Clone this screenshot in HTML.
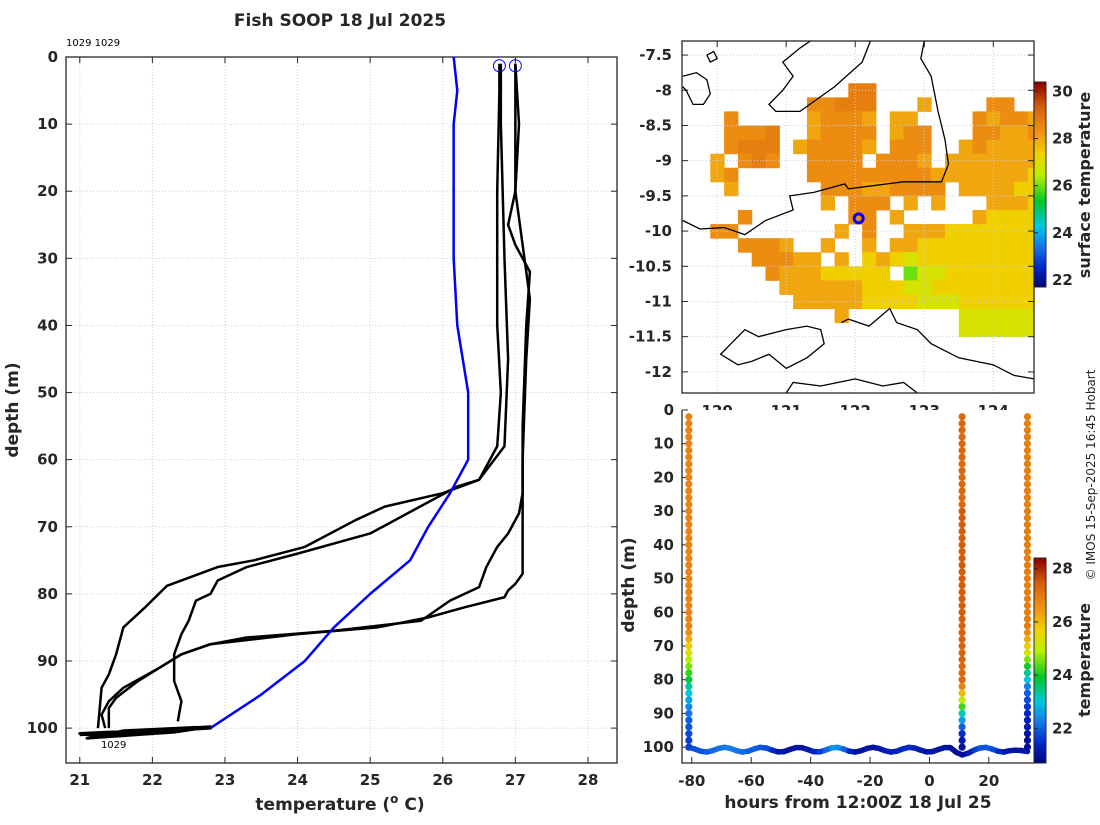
<!DOCTYPE html>
<html><head><meta charset="utf-8"><style>
body{margin:0;background:#fff;}
svg text{font-family:"DejaVu Sans","Liberation Sans",sans-serif;fill:#262626;}
.tk{font-size:15px;font-weight:bold;}
.lb{font-size:17px;font-weight:bold;}
</style></head><body>
<svg id="svg" width="1100" height="820" xmlns="http://www.w3.org/2000/svg">
<rect width="1100" height="820" fill="#fff"/>
<text x="340" y="26" text-anchor="middle" style="font-size:17px;font-weight:bold">Fish SOOP 18 Jul 2025</text>
<text x="66" y="46" style="font-size:10px;fill:#000">1029 1029</text>
<g id="left"></g>
<g id="map"></g>
<g id="sect"></g>
<text transform="translate(18,410) rotate(-90)" text-anchor="middle" class="lb">depth (m)</text>
<text x="340" y="810" text-anchor="middle" class="lb">temperature (<tspan dy="-7" font-size="12">o</tspan><tspan dy="7"> C)</tspan></text>
<text transform="translate(634,585) rotate(-90)" text-anchor="middle" class="lb">depth (m)</text>
<text x="858" y="808" text-anchor="middle" class="lb">hours from 12:00Z 18 Jul 25</text>
<text transform="translate(1095,475) rotate(-90)" text-anchor="middle" style="font-size:12px">© IMOS 15-Sep-2025 16:45 Hobart</text>
</svg>
<script>
// ---------- profile plot data ----------
const tempTicks=[21,22,23,24,25,26,27,28];
const depthTicks=[0,10,20,30,40,50,60,70,80,90,100];
const blueT=[26.15,26.2,26.15,26.15,26.15,26.2,26.35,26.35,26.1,25.8,25.55,25.0,24.5,24.1,23.5,22.8];
const blueD=[0,5,10,20,30,40,50,60,65,70,75,80,85,90,95,100];
const profAT=[26.78,26.78,26.75,26.75,26.8,26.75,26.5,26.0,25.2,24.8,24.1,23.4,22.9,22.2,21.9,21.6,21.5,21.4,21.3,21.25];
const profAD=[1,5,20,40,50,58,63,65,67,69,73,75,76,78.8,82,85,89,92,94,100];
const profBT=[26.8,26.8,26.85,26.9,26.85,26.5,26.2,25.0,24.0,23.3,22.9,22.8,22.6,22.5,22.4,22.3,22.3,22.4,22.35];
const profBD=[1,10,30,45,58,63,64,71,74,76,78,80,81,84,86,89,93,96,99];
const profCT=[27.0,27.05,27.0,26.9,27.0,27.2,27.15,27.1,27.1,27.05,26.9,26.75,26.6,26.5,26.1,25.7,24.5,23.3,22.8,22.4,22.1,21.8,21.5,21.4,21.4];
const profCD=[1,10,20,25,28,32,40,55,65,68,71,73,76,79,81,84,85.5,86.5,87.5,89,91,93,95.5,97,100];
const profDT=[27.0,27.0,27.2,27.15,27.1,27.1,27.0,26.9,26.85,26.3,25.8,25.1,24.0,22.8,22.4,22.1,21.6,21.4,21.3,21.35];
const profDD=[1,20,36,45,60,77,78.5,79.5,80.5,82,83.5,85,86,87.5,89,91,94,96,98,100];
const bottomT=[21.0,21.8,22.5,22.8,22.0,21.3,21.0,22.0,22.8,22.3,21.5,21.1,21.6,22.6,21.2];
const bottomD=[101,100.5,100,100,100.5,101,100.8,100.3,99.8,100.6,101.2,101.5,100.4,99.9,101.3];
const startT=[26.78,27.0];
const startD=[1.3,1.3];

// ---------- map data ----------
const lonTicks=[120,121,122,123,124];
const latTicks=[-7.5,-8,-8.5,-9,-9.5,-10,-10.5,-11,-11.5,-12];
const sstCodes=['R','r','o','y','g','G'];
const sstValues=[28.7,28.4,28.0,27.4,26.9,26.0];
const sstRows=[
"..........................",
"..........................",
"..........................",
"............RR............",
".........rrRRR...o....rr..",
"...r.....orrro.oo....rorro",
"...rrrR..orrrr.orr...rroor",
"...rRRR.orrrro.rrr..oroooo",
"..o.rRr..rrrr.rrro.ooooooo",
"..or.....rrrrrrrrroooooooy",
"...o......rrroorrrr.ooooyy",
"..........o.rrr.o.o...oooy",
"....r.......rr.o.....oyyyy",
"..rr.......o.r..oooyyyyyyy",
"....rrro..o..o.ooyyyyyyyyy",
".....rrroo.o.yoygyyyyyyyyy",
"......roooyyyyy.Gggyyyyyyy",
".......ooooooyyyggyyyyyyyy",
"........oooooyyyygggyyyyyy",
"...........o........gggggg",
"....................gggggg",
"..........................",
"..........................",
"..........................",
".........................."];
const sstLon0=119.5, sstLat0=-7.3, sstStep=0.2;
const mapCbTicks=[22,24,26,28,30];
const shipLon=122.05, shipLat=-9.82;
const coasts=[
 [[122.22,-7.3],[122.1,-7.6],[121.7,-7.95],[121.2,-8.3],[120.85,-8.3],[120.75,-8.2],[120.95,-8.0],[121.1,-7.8],[120.95,-7.6],[121.2,-7.4],[121.35,-7.3]],
 [[119.5,-7.8],[119.7,-7.75],[119.85,-7.85],[119.9,-8.05],[119.8,-8.2],[119.65,-8.2],[119.55,-8.0],[119.5,-7.95]],
 [[119.85,-7.5],[119.95,-7.45],[120.0,-7.55],[119.9,-7.6],[119.85,-7.5]],
 [[123.0,-7.3],[122.95,-7.55],[123.1,-7.8],[123.2,-8.3],[123.3,-8.7],[123.35,-9.05],[123.25,-9.3],[122.7,-9.3],[122.3,-9.35],[121.9,-9.4],[121.85,-9.33],[121.4,-9.45],[121.05,-9.5],[121.1,-9.7],[120.7,-9.85],[120.4,-10.05],[120.1,-9.95],[119.75,-9.97],[119.5,-9.85]],
 [[120.2,-11.6],[120.4,-11.4],[120.6,-11.5],[121.0,-11.4],[121.3,-11.35],[121.5,-11.4],[121.55,-11.6],[121.3,-11.8],[121.0,-11.95],[120.75,-11.75],[120.5,-11.85],[120.3,-11.9],[120.05,-11.75],[120.2,-11.6]],
 [[121.8,-11.3],[121.9,-11.25],[122.2,-11.35],[122.5,-11.1],[122.6,-11.3],[122.9,-11.4],[123.1,-11.6],[123.5,-11.8],[124.0,-11.9],[124.3,-12.05],[124.59,-12.1]],
 [[121.0,-12.3],[121.1,-12.15],[121.5,-12.2],[122.0,-12.1],[122.4,-12.2],[122.7,-12.15],[122.9,-12.3]]
];

// ---------- section data ----------
const hourTicks=[-80,-60,-40,-20,0,20];
const secDepthTicks=[0,10,20,30,40,50,60,70,80,90,100];
const secCbTicks=[22,24,26,28];
const castHours=[-81,11,33];
const castDepths=[2,4,6,8,10,12,14,16,18,20,22,24,26,28,30,32,34,36,38,40,42,44,46,48,50,52,54,56,58,60,62,64,66,68,70,72,74,76,78,80,82,84,86,88,90,92,94,96,98,100];
const cast1Temps=[26.8,26.8,26.8,26.8,26.8,26.8,26.8,26.8,26.8,26.8,26.8,26.8,26.8,26.8,26.8,26.8,26.8,26.8,26.8,26.8,26.8,26.8,26.8,26.8,26.8,26.8,26.8,26.8,26.8,26.8,26.8,26.8,26.6,26.2,25.8,25.4,24.9,24.6,24.2,23.8,23.4,23.0,22.7,22.4,22.2,22.0,21.9,21.8,21.7,21.7];
const cast2Temps=[27.3,27.3,27.3,27.3,27.3,27.3,27.3,27.3,27.3,27.3,27.3,27.3,27.3,27.3,27.5,27.5,27.5,27.5,27.5,27.5,27.5,27.5,27.5,27.5,27.5,27.5,27.5,27.5,27.5,27.5,27.4,27.4,27.4,27.4,27.4,27.4,27.4,27.3,27.3,27.3,26.8,26.0,25.0,24.3,23.2,22.6,22.0,21.5,21.2,21.0];
const cast3Temps=[26.9,26.9,26.9,26.9,26.9,26.9,26.9,26.9,26.9,26.9,26.9,26.9,26.9,26.9,26.9,26.9,26.9,26.9,26.9,26.9,26.9,26.9,26.9,26.9,26.9,26.9,26.9,26.9,26.9,26.9,26.9,26.9,26.6,26.2,25.8,25.2,24.6,24.0,23.4,23.0,22.3,22.0,21.8,21.6,21.4,21.3,21.2,21.1,21.0,21.0];
const waveHours=[-81,-79,-77,-75,-73,-71,-69,-67,-65,-63,-61,-59,-57,-55,-53,-51,-49,-47,-45,-43,-41,-39,-37,-35,-33,-31,-29,-27,-25,-23,-21,-19,-17,-15,-13,-11,-9,-7,-5,-3,-1,1,3,5,7,9,11,13,15,17,19,21,23,25,27,29,31,33];
const waveDepths=[100.07,100.53,101.2,101.44,101.05,100.37,100.05,100.37,101.05,101.44,101.2,100.53,100.07,100.24,100.88,101.4,101.32,100.7,100.13,100.13,100.7,101.32,101.4,100.88,100.24,100.07,100.53,101.2,101.44,101.05,100.37,100.05,100.37,101.05,101.44,101.2,100.53,100.07,100.24,100.88,101.4,101.32,100.7,100.13,100.13,101.5,102.3,101.8,100.9,100.24,100.07,100.53,101.2,101.44,101.05,100.9,101.0,101.3];
const waveTemps=[22.0,21.9,21.9,22.0,22.1,22.2,22.3,22.3,22.2,22.1,22.0,22.0,21.9,21.8,21.5,21.2,21.1,21.1,21.1,21.1,21.2,21.4,21.7,22.1,22.5,22.4,22.0,21.4,21.1,21.1,21.1,21.1,21.2,21.3,21.3,21.4,21.5,21.5,21.3,21.2,21.1,21.1,21.1,21.1,21.0,21.0,21.0,21.3,21.7,21.9,21.9,21.8,21.5,21.2,21.1,21.1,21.1,21.1];

const NS='http://www.w3.org/2000/svg';
function mk(tag,attrs,parent){const e=document.createElementNS(NS,tag);for(const k in attrs)e.setAttribute(k,attrs[k]);parent.appendChild(e);return e;}
const cmStops=[0,0.1,0.2,0.3,0.42,0.55,0.65,0.75,0.88,1.0];
const cmCols=[[0,0,120],[0,40,200],[20,120,235],[0,200,225],[0,200,40],[190,240,0],[240,210,0],[240,150,20],[215,95,10],[140,0,0]];
function jet(t){t=Math.max(0,Math.min(1,t));let i=0;while(i<cmStops.length-2&&t>cmStops[i+1])i++;
 const f=(t-cmStops[i])/(cmStops[i+1]-cmStops[i]);const a=cmCols[i],b=cmCols[i+1];
 return `rgb(${Math.round(a[0]+(b[0]-a[0])*f)},${Math.round(a[1]+(b[1]-a[1])*f)},${Math.round(a[2]+(b[2]-a[2])*f)})`;}

// ===== Profile plot =====
(function(){
const g=document.getElementById('left');
const L=66,R=617,T=57,B=763,xmin=20.81,xmax=28.4,ymin=0,ymax=105.2;
const X=v=>L+(v-xmin)/(xmax-xmin)*(R-L), Y=v=>T+(v-ymin)/(ymax-ymin)*(B-T);
tempTicks.forEach(t=>{
 const l=mk('line',{x1:X(t),x2:X(t),y1:T,y2:B,stroke:'#d8c8d8','stroke-width':1,'stroke-dasharray':'1,2'},g);
 
 mk('line',{x1:X(t),x2:X(t),y1:B,y2:B-6,stroke:'#262626'},g);mk('line',{x1:X(t),x2:X(t),y1:T,y2:T+6,stroke:'#262626'},g);
 const tx=mk('text',{x:X(t),y:B+22,'text-anchor':'middle',class:'tk'},g);tx.textContent=t;
 
});
depthTicks.forEach(d=>{
 const l=mk('line',{x1:L,x2:R,y1:Y(d),y2:Y(d),stroke:'#c8cde8','stroke-width':1,'stroke-dasharray':'1,2'},g);
 
 mk('line',{x1:L,x2:L+6,y1:Y(d),y2:Y(d),stroke:'#262626'},g);mk('line',{x1:R,x2:R-6,y1:Y(d),y2:Y(d),stroke:'#262626'},g);
 const tx=mk('text',{x:L-8,y:Y(d)+5,'text-anchor':'end',class:'tk'},g);tx.textContent=d;
 
});
const fr=mk('rect',{x:L,y:T,width:R-L,height:B-T,fill:'none',stroke:'#262626','stroke-width':1.3},g);

function line(ts,ds,col,name,w){const p=mk('polyline',{points:ts.map((t,i)=>X(t)+','+Y(ds[i])).join(' '),fill:'none',stroke:col,'stroke-width':w,'stroke-linejoin':'round'},g);
 }
line(profAT,profAD,'#000','profile-line-a',2.5);
line(profBT,profBD,'#000','profile-line-b',2.5);
line(profCT,profCD,'#000','profile-line-c',2.5);
line(profDT,profDD,'#000','profile-line-d',2.5);
line(bottomT,bottomD,'#000','bottom-scribble',3);
line(blueT,blueD,'#0000ff','climatology-profile',2.5);
startT.forEach((t,i)=>{const c=mk('circle',{cx:X(t),cy:Y(startD[i]),r:6,fill:'none',stroke:'#0000ff','stroke-width':1},g);
 });
const lt=mk('text',{x:X(21.25)+3,y:Y(101.5)+10,style:'font-size:10px;fill:#000'},g);lt.textContent='1029';

})();

// ===== Map =====
(function(){
const g=document.getElementById('map');
const L=682,R=1034,T=41,B=393,lo0=119.49,lo1=124.59,la0=-7.3,la1=-12.3;
const X=v=>L+(v-lo0)/(lo1-lo0)*(R-L), Y=v=>T+(v-la0)/(la1-la0)*(B-T);
const cmin=21.7,cmax=30.4;
lonTicks.forEach(t=>{
 const tx=mk('text',{x:X(t),y:416,'text-anchor':'middle',class:'tk'},g);tx.textContent=t;
 
});
const cg=mk('g',{},g);
sstRows.forEach((row,i)=>{for(let j=0;j<row.length;j++){const k=sstCodes.indexOf(row[j]);if(k<0)continue;
 const lon=sstLon0+j*sstStep, lat=sstLat0-i*sstStep;
 const x0=X(lon),x1=Math.min(R,X(lon+sstStep)),y0=Y(lat),y1=Y(lat-sstStep);
 const r=mk('rect',{x:x0,y:y0,width:x1-x0+0.5,height:y1-y0+0.5,fill:jet((sstValues[k]-cmin)/(cmax-cmin))},cg);
 }});
lonTicks.forEach(t=>{mk('line',{x1:X(t),x2:X(t),y1:T,y2:B,stroke:'#c8cde8','stroke-dasharray':'1,2'},g);
 mk('line',{x1:X(t),x2:X(t),y1:T,y2:T+6,stroke:'#262626'},g);});
latTicks.forEach(t=>{mk('line',{x1:L,x2:R,y1:Y(t),y2:Y(t),stroke:'#c8cde8','stroke-dasharray':'1,2'},g);
 mk('line',{x1:L,x2:L+6,y1:Y(t),y2:Y(t),stroke:'#262626'},g);mk('line',{x1:R,x2:R-6,y1:Y(t),y2:Y(t),stroke:'#262626'},g);
 const tx=mk('text',{x:L-10,y:Y(t)+5,'text-anchor':'end',class:'tk'},g);tx.textContent=t;
 });
coasts.forEach(c=>{const p=mk('polyline',{points:c.map(q=>X(q[0])+','+Y(q[1])).join(' '),fill:'none',stroke:'#000','stroke-width':1.3},g);
 });
const sh=mk('circle',{cx:X(shipLon),cy:Y(shipLat),r:4.5,fill:'none',stroke:'#0000ff','stroke-width':3},g);

const fr=mk('rect',{x:L,y:T,width:R-L,height:B-T,fill:'none',stroke:'#262626','stroke-width':1.3},g);

const cT=82,cB=287,cL=1034,cW=12;const CY=v=>cB-(v-cmin)/(cmax-cmin)*(cB-cT);
for(let y=cT;y<cB;y++){mk('rect',{x:cL,y:y,width:cW,height:1.2,fill:jet((cB-y)/(cB-cT))},g);}
mk('rect',{x:cL,y:cT,width:cW,height:cB-cT,fill:'none',stroke:'#262626'},g);
mapCbTicks.forEach(t=>{mk('line',{x1:cL,x2:cL+4,y1:CY(t),y2:CY(t),stroke:'#262626'},g);
 const tx=mk('text',{x:cL+18,y:CY(t)+5,class:'tk'},g);tx.textContent=t;
 });
const ct=mk('text',{transform:'translate(1090,185) rotate(-90)','text-anchor':'middle',class:'lb',style:'font-size:16px'},g);ct.textContent='surface temperature';

})();

// ===== Section =====
(function(){
const g=document.getElementById('sect');
const L=682,R=1034,T=410,B=763,h0=-83.3,h1=35.2,d0=0,d1=104.7;
const X=v=>L+(v-h0)/(h1-h0)*(R-L), Y=v=>T+(v-d0)/(d1-d0)*(B-T);
const cmin=20.7,cmax=28.4;
mk('rect',{x:L,y:T,width:R-L,height:B-T,fill:'#fff'},g);
hourTicks.forEach(t=>{mk('line',{x1:X(t),x2:X(t),y1:B,y2:B-6,stroke:'#262626'},g);
 const tx=mk('text',{x:X(t),y:B+23,'text-anchor':'middle',class:'tk'},g);tx.textContent=t;
 });
secDepthTicks.forEach(t=>{mk('line',{x1:L,x2:L+6,y1:Y(t),y2:Y(t),stroke:'#262626'},g);
 const tx=mk('text',{x:L-8,y:Y(t)+5,'text-anchor':'end',class:'tk'},g);tx.textContent=t;
 });
const col=t=>jet((t-cmin)/(cmax-cmin));
for(let i=0;i<waveHours.length-1;i++){
 const s=mk('line',{x1:X(waveHours[i]),y1:Y(waveDepths[i]),x2:X(waveHours[i+1]),y2:Y(waveDepths[i+1]),stroke:col(waveTemps[i]),'stroke-width':5.5,'stroke-linecap':'round'},g);
 }
const casts=[cast1Temps,cast2Temps,cast3Temps];
casts.forEach((temps,c)=>{castDepths.forEach((d,i)=>{
 const p=mk('circle',{cx:X(castHours[c]),cy:Y(d),r:3.6,fill:col(temps[i])},g);
 });});
const fr=mk('path',{d:`M${L},${T}V${B}H${R}`,fill:'none',stroke:'#262626','stroke-width':1.3},g);

const cT=558,cB=763,cL=1034,cW=12;const CY=v=>cB-(v-cmin)/(cmax-cmin)*(cB-cT);
for(let y=cT;y<cB;y++){mk('rect',{x:cL,y:y,width:cW,height:1.2,fill:jet((cB-y)/(cB-cT))},g);}
mk('rect',{x:cL,y:cT,width:cW,height:cB-cT,fill:'none',stroke:'#262626'},g);
secCbTicks.forEach(t=>{mk('line',{x1:cL,x2:cL+4,y1:CY(t),y2:CY(t),stroke:'#262626'},g);
 const tx=mk('text',{x:cL+18,y:CY(t)+5,class:'tk'},g);tx.textContent=t;
 });
const ct=mk('text',{transform:'translate(1090,660) rotate(-90)','text-anchor':'middle',class:'lb',style:'font-size:16px'},g);ct.textContent='temperature';

})();
</script>
</body></html>
